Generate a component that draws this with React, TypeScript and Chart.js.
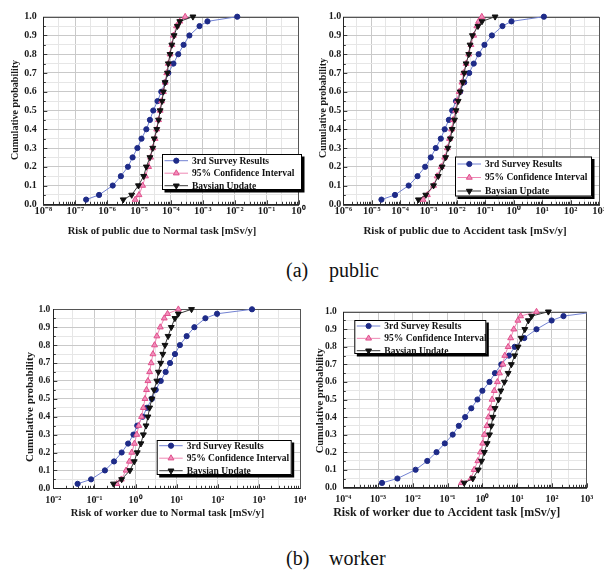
import React, { useEffect, useRef } from 'react';
import { Chart, registerables } from 'chart.js';

Chart.register(...registerables);

// ---------------- data ----------------
const PROB_LEVELS = [0.025, 0.05, 0.1, 0.15, 0.2, 0.25, 0.3, 0.35, 0.4, 0.45, 0.5, 0.55, 0.6, 0.65, 0.7, 0.75, 0.8, 0.85, 0.9, 0.95, 0.975, 1.0];
const Y_TICK_LABELS = ['0.0', '0.1', '0.2', '0.3', '0.4', '0.5', '0.6', '0.7', '0.8', '0.9', '1.0'];
const SERIES_LABELS = ['3rd Survey Results', '95% Confidence Interval', 'Baysian Update'];
const Y_TITLE = 'Cumulative probability';

// (a) public – Normal task
const PUB_NORMAL_X_LABELS = ['10⁻⁸', '10⁻⁷', '10⁻⁶', '10⁻⁵', '10⁻⁴', '10⁻³', '10⁻²', '10⁻¹', '10⁰'];
const PUB_NORMAL_SURVEY = [2.2e-7, 5.6e-7, 1.5e-6, 2.7e-6, 4.5e-6, 6.3e-6, 8.9e-6, 1.2e-5, 1.7e-5, 2.2e-5, 2.8e-5, 3.8e-5, 5.0e-5, 6.6e-5, 8.3e-5, 1.2e-4, 1.7e-4, 2.5e-4, 3.8e-4, 7.9e-4, 1.4e-3, 1.2e-2];
const PUB_NORMAL_CI = [7.6e-6, 1.0e-5, 1.3e-5, 1.6e-5, 2.0e-5, 2.3e-5, 2.7e-5, 3.2e-5, 3.6e-5, 4.1e-5, 4.6e-5, 5.1e-5, 5.8e-5, 6.6e-5, 7.4e-5, 8.3e-5, 9.4e-5, 1.07e-4, 1.2e-4, 1.5e-4, 1.9e-4, 2.8e-4];
const PUB_NORMAL_BAYES = [3.2e-6, 5.9e-6, 9.6e-6, 1.4e-5, 1.7e-5, 2.2e-5, 2.7e-5, 3.0e-5, 3.6e-5, 4.1e-5, 4.6e-5, 5.3e-5, 5.8e-5, 6.6e-5, 7.8e-5, 8.3e-5, 9.4e-5, 1.07e-4, 1.26e-4, 1.6e-4, 1.9e-4, 4.9e-4];

// (a) public – Accident task
const PUB_ACC_X_LABELS = ['10⁻⁶', '10⁻⁵', '10⁻⁴', '10⁻³', '10⁻²', '10⁻¹', '10⁰', '10¹', '10²', '10³'];
const PUB_ACC_SURVEY = [2.2e-5, 6.6e-5, 2.0e-4, 4.1e-4, 7.6e-4, 1.2e-3, 1.8e-3, 2.7e-3, 3.7e-3, 5.2e-3, 6.8e-3, 9.3e-3, 1.3e-2, 1.8e-2, 2.7e-2, 3.9e-2, 5.8e-2, 9.3e-2, 0.17, 0.40, 0.83, 11.5];
const PUB_ACC_CI = [6.4e-4, 9.1e-4, 1.5e-3, 2.0e-3, 2.8e-3, 3.7e-3, 4.6e-3, 5.5e-3, 6.5e-3, 7.4e-3, 8.9e-3, 1.0e-2, 1.2e-2, 1.5e-2, 1.7e-2, 2.1e-2, 2.6e-2, 3.1e-2, 3.9e-2, 5.0e-2, 5.8e-2, 7.5e-2];
const PUB_ACC_BAYES = [4.4e-4, 8.0e-4, 1.5e-3, 2.2e-3, 3.0e-3, 4.0e-3, 4.8e-3, 5.9e-3, 6.8e-3, 8.2e-3, 9.3e-3, 1.1e-2, 1.3e-2, 1.6e-2, 1.8e-2, 2.1e-2, 2.6e-2, 2.9e-2, 3.5e-2, 5.5e-2, 7.6e-2, 0.22];

// (b) worker – Normal task
const WORK_NORMAL_X_LABELS = ['10⁻²', '10⁻¹', '10⁰', '10¹', '10²', '10³', '10⁴'];
const WORK_NORMAL_SURVEY = [0.039, 0.083, 0.18, 0.30, 0.46, 0.66, 0.89, 1.1, 1.5, 1.9, 2.5, 3.1, 4.1, 5.4, 6.9, 9.1, 12, 17.5, 27, 50, 96, 680];
const WORK_NORMAL_CI = [0.35, 0.45, 0.59, 0.71, 0.81, 0.94, 1.07, 1.2, 1.4, 1.55, 1.7, 1.85, 2.0, 2.2, 2.4, 2.65, 2.9, 3.3, 4.0, 5.0, 6.0, 11];
const WORK_NORMAL_BAYES = [0.29, 0.46, 0.73, 0.93, 1.1, 1.35, 1.55, 1.8, 2.0, 2.2, 2.5, 2.8, 3.3, 3.6, 4.1, 4.6, 5.2, 6.2, 7.4, 9.1, 11, 23];

// (b) worker – Accident task
const WORK_ACC_X_LABELS = ['10⁻⁴', '10⁻³', '10⁻²', '10⁻¹', '10⁰', '10¹', '10²', '10³'];
const WORK_ACC_SURVEY = [1.3e-3, 3.6e-3, 1.2e-2, 2.6e-2, 4.8e-2, 8.3e-2, 0.14, 0.21, 0.32, 0.48, 0.72, 1.0, 1.6, 2.3, 3.5, 5.8, 8.5, 16, 36, 98, 215, 2000];
const WORK_ACC_CI = [0.25, 0.47, 0.58, 0.74, 0.88, 1.02, 1.14, 1.34, 1.5, 1.7, 1.9, 2.2, 2.7, 3.1, 3.9, 4.4, 5.5, 6.5, 8.0, 10.5, 12.6, 36];
const WORK_ACC_BAYES = [0.30, 0.53, 0.76, 0.95, 1.14, 1.37, 1.6, 1.8, 2.0, 2.3, 2.9, 3.4, 4.3, 5.5, 6.8, 8.5, 10.6, 13, 16.6, 21, 26, 79];

// ---------------- styles / layout ----------------
const FONT = '"Liberation Serif", "Times New Roman", serif';
const STYLES = [
  { border: '#7282d2', fill: '#1e2b88', stroke: '#1e2b88', shape: 'circle', radius: 2.6, rotation: 0, order: 3 },
  { border: '#ee88b4', fill: '#f28cbb', stroke: '#e0508c', shape: 'triangle', radius: 3.4, rotation: 0, order: 2 },
  { border: '#3a3a3a', fill: '#111111', stroke: '#111111', shape: 'triangle', radius: 3.4, rotation: 180, order: 1 },
];
const X_AXIS_H = 30;

type Panel = any;

const PANELS: Panel[] = [
  {
    series: [PUB_NORMAL_SURVEY, PUB_NORMAL_CI, PUB_NORMAL_BAYES],
    xLabels: PUB_NORMAL_X_LABELS, minExp: -8,
    xTitle: 'Risk of public due to Normal task [mSv/y]',
    canvas: { left: 0, top: 0, width: 306, height: 245 },
    plot: { x0: 43.3, y0: 16.7, x1: 298.5, y1: 204.3 },
    tickFont: 10, xTickFont: 10.5, yLabelPad: 6.5, xLabelPad: 1,
    xTitleAt: { cx: 162, cy: 231, size: 10.5 },
    yTitleAt: { cx: 15, cy: 110, size: 10 },
    legend: { x: 162, y: 154, w: 140, h: 36, row0: 6.7, step: 12.5 },
  },
  {
    series: [PUB_ACC_SURVEY, PUB_ACC_CI, PUB_ACC_BAYES],
    xLabels: PUB_ACC_X_LABELS, minExp: -6,
    xTitle: 'Risk of public due to Accident task [mSv/y]',
    canvas: { left: 306, top: 0, width: 298, height: 245 },
    plot: { x0: 343.3, y0: 16.7, x1: 601.6, y1: 204.3 },
    tickFont: 10, xTickFont: 10.5, yLabelPad: 2, xLabelPad: 1,
    xTitleAt: { cx: 465, cy: 231, size: 11 },
    yTitleAt: { cx: 323, cy: 108, size: 10 },
    legend: { x: 455, y: 156.5, w: 137, h: 40, row0: 7.5, step: 13.5 },
  },
  {
    series: [WORK_NORMAL_SURVEY, WORK_NORMAL_CI, WORK_NORMAL_BAYES],
    xLabels: WORK_NORMAL_X_LABELS, minExp: -2,
    xTitle: 'Risk of worker due to Normal task [mSv/y]',
    canvas: { left: 0, top: 290, width: 306, height: 240 },
    plot: { x0: 53.3, y0: 309.3, x1: 300, y1: 488.3 },
    tickFont: 9.5, xTickFont: 10, yLabelPad: 3, xLabelPad: 6,
    xTitleAt: { cx: 167.5, cy: 513.3, size: 10.5 },
    yTitleAt: { cx: 30, cy: 407, size: 11 },
    legend: { x: 156.7, y: 440, w: 135, h: 35, row0: 5.7, step: 12.5 },
  },
  {
    series: [WORK_ACC_SURVEY, WORK_ACC_CI, WORK_ACC_BAYES],
    xLabels: WORK_ACC_X_LABELS, minExp: -4,
    xTitle: 'Risk of worker due to Accident task [mSv/y]',
    canvas: { left: 306, top: 290, width: 298, height: 240 },
    plot: { x0: 343.3, y0: 311.7, x1: 586.7, y1: 487.3 },
    tickFont: 9.5, xTickFont: 10, yLabelPad: 6.5, xLabelPad: 6,
    xTitleAt: { cx: 446.7, cy: 513.3, size: 12 },
    yTitleAt: { cx: 320, cy: 400.8, size: 10.5 },
    legend: { x: 354.3, y: 320, w: 132, h: 34, row0: 6, step: 12.35 },
  },
];

function isDecade(v: number) {
  const e = Math.log10(v);
  return Math.abs(e - Math.round(e)) < 1e-6;
}

function drawMarker(ctx: CanvasRenderingContext2D, shape: string, x: number, y: number, r: number, rotDeg: number, fill: string, stroke: string) {
  ctx.save();
  ctx.fillStyle = fill;
  ctx.strokeStyle = stroke;
  ctx.lineWidth = 1;
  ctx.beginPath();
  if (shape === 'circle') {
    ctx.arc(x, y, r, 0, Math.PI * 2);
  } else {
    let rad = (rotDeg * Math.PI) / 180;
    ctx.moveTo(x + Math.sin(rad) * r, y - Math.cos(rad) * r);
    rad += (2 * Math.PI) / 3;
    ctx.lineTo(x + Math.sin(rad) * r, y - Math.cos(rad) * r);
    rad += (2 * Math.PI) / 3;
    ctx.lineTo(x + Math.sin(rad) * r, y - Math.cos(rad) * r);
    ctx.closePath();
  }
  ctx.fill();
  ctx.stroke();
  ctx.restore();
}

function makeDecor(p: Panel) {
  const L = p.canvas.left;
  const T = p.canvas.top;
  return {
    id: 'decor',
    beforeDraw(chart: any) {
      const { ctx, chartArea: a } = chart;
      ctx.save();
      ctx.fillStyle = '#ffffff';
      ctx.fillRect(a.left, a.top, a.right - a.left, a.bottom - a.top);
      ctx.restore();
    },
    beforeDatasetsDraw(chart: any) {
      const { ctx, chartArea: a, scales } = chart;
      ctx.save();
      ctx.strokeStyle = '#3a3a3a';
      ctx.lineWidth = 1;
      ctx.beginPath();
      for (const t of scales.x.ticks) {
        const px = Math.round(scales.x.getPixelForValue(t.value)) + 0.5;
        const len = isDecade(t.value) ? 4 : 2.5;
        ctx.moveTo(px, a.bottom);
        ctx.lineTo(px, a.bottom - len);
      }
      scales.y.ticks.forEach((t: any, i: number) => {
        const py = Math.round(scales.y.getPixelForValue(t.value)) + 0.5;
        const len = i % 2 === 0 ? 4 : 2.5;
        ctx.moveTo(a.left, py);
        ctx.lineTo(a.left + len, py);
      });
      ctx.stroke();
      ctx.strokeStyle = '#555555';
      ctx.strokeRect(Math.round(a.left) + 0.5, Math.round(a.top) + 0.5, Math.round(a.right - a.left), Math.round(a.bottom - a.top));
      ctx.strokeStyle = '#222222';
      ctx.beginPath();
      ctx.moveTo(Math.round(a.left) + 0.5, Math.round(a.top));
      ctx.lineTo(Math.round(a.left) + 0.5, Math.round(a.bottom) + 0.5);
      ctx.lineTo(Math.round(a.right) + 0.5, Math.round(a.bottom) + 0.5);
      ctx.stroke();
      ctx.restore();
    },
    afterDraw(chart: any) {
      const { ctx } = chart;
      ctx.save();
      ctx.fillStyle = '#1a1a1a';
      ctx.textAlign = 'center';
      ctx.textBaseline = 'middle';
      ctx.font = `bold ${p.xTitleAt.size}px ${FONT}`;
      ctx.fillText(p.xTitle, p.xTitleAt.cx - L, p.xTitleAt.cy - T);
      ctx.save();
      ctx.translate(p.yTitleAt.cx - L, p.yTitleAt.cy - T);
      ctx.rotate(-Math.PI / 2);
      ctx.font = `bold ${p.yTitleAt.size}px ${FONT}`;
      ctx.fillText(Y_TITLE, 0, 0);
      ctx.restore();

      // legend
      const lg = p.legend;
      const bx = lg.x - L;
      const by = lg.y - T;
      ctx.fillStyle = '#000000';
      ctx.fillRect(bx + 2.5, by + 2.5, lg.w, lg.h);
      ctx.fillStyle = '#ffffff';
      ctx.fillRect(bx, by, lg.w, lg.h);
      ctx.strokeStyle = '#000000';
      ctx.lineWidth = 1;
      ctx.strokeRect(bx + 0.5, by + 0.5, lg.w - 1, lg.h - 1);
      chart.data.datasets.forEach((ds: any, i: number) => {
        const st = STYLES[i];
        const ry = by + lg.row0 + i * lg.step;
        ctx.strokeStyle = st.border;
        ctx.lineWidth = 1;
        ctx.beginPath();
        ctx.moveTo(bx + 2.5, ry);
        ctx.lineTo(bx + 26, ry);
        ctx.stroke();
        drawMarker(ctx, st.shape, bx + 14.3, ry, st.radius, st.rotation, st.fill, st.stroke);
        ctx.fillStyle = '#111111';
        ctx.font = `bold 9.5px ${FONT}`;
        ctx.textAlign = 'left';
        ctx.textBaseline = 'middle';
        ctx.fillText(ds.label, bx + 30, ry + 0.5);
      });
      ctx.restore();
    },
  };
}

function ChartPanel({ p }: { p: Panel }) {
  const ref = useRef<HTMLCanvasElement>(null);
  useEffect(() => {
    const canvas = ref.current;
    if (!canvas) return;
    const L = p.canvas.left;
    const T = p.canvas.top;
    const maxExp = p.minExp + p.xLabels.length - 1;
    const yAxisW = p.plot.x0 - L;
    const padTop = p.plot.y0 - T;
    const padRight = L + p.canvas.width - p.plot.x1;
    const padBottom = T + p.canvas.height - p.plot.y1 - X_AXIS_H;

    const datasets = p.series.map((xs: number[], si: number) => {
      const st = STYLES[si];
      return {
        label: SERIES_LABELS[si],
        data: xs.map((x: number, i: number) => ({ x, y: PROB_LEVELS[i] })),
        borderColor: st.border,
        backgroundColor: st.fill,
        borderWidth: 1,
        pointStyle: st.shape,
        pointRadius: st.radius,
        pointRotation: st.rotation,
        pointBackgroundColor: st.fill,
        pointBorderColor: st.stroke,
        pointBorderWidth: 1,
        tension: 0,
        order: st.order,
        clip: { left: 6, top: 6, right: 0, bottom: 6 },
      };
    });

    const yFont = { family: FONT, size: p.tickFont, weight: 'bold' as const };
    const xFont = { family: FONT, size: p.xTickFont, weight: 'bold' as const };

    const chart = new Chart(canvas, {
      type: 'line',
      data: { datasets },
      options: {
        responsive: false,
        maintainAspectRatio: false,
        animation: false,
        devicePixelRatio: 1,
        layout: { padding: { left: 0, top: padTop, right: padRight, bottom: padBottom } },
        plugins: { legend: { display: false }, tooltip: { enabled: false }, title: { display: false } },
        scales: {
          x: {
            type: 'logarithmic',
            position: 'bottom',
            min: Math.pow(10, p.minExp),
            max: Math.pow(10, maxExp),
            afterBuildTicks: (scale: any) => {
              const ticks: any[] = [];
              for (let e = p.minExp; e <= maxExp; e++) {
                ticks.push({ value: Math.pow(10, e), major: true });
                if (e < maxExp) {
                  for (let m = 2; m <= 9; m++) ticks.push({ value: m * Math.pow(10, e), major: false });
                }
              }
              scale.ticks = ticks;
            },
            afterFit: (scale: any) => {
              scale.height = X_AXIS_H;
              scale.paddingLeft = 0;
              scale.paddingRight = 0;
            },
            grid: {
              drawTicks: false,
              lineWidth: 1,
              color: (ctx: any) => {
                const v = ctx.tick ? ctx.tick.value : 1;
                if (isDecade(v)) return '#c9c9c9';
                const sig = Math.round(v / Math.pow(10, Math.floor(Math.log10(v) + 1e-9)));
                return sig === 3 ? '#e6e6e6' : 'rgba(0,0,0,0)';
              },
            },
            border: { display: false },
            ticks: {
              autoSkip: false,
              maxRotation: 0,
              minRotation: 0,
              padding: p.xLabelPad,
              color: '#1a1a1a',
              font: xFont,
              callback: (value: any) => {
                const v = Number(value);
                if (!isDecade(v)) return '';
                return p.xLabels[Math.round(Math.log10(v)) - p.minExp];
              },
            },
          },
          y: {
            type: 'linear',
            position: 'left',
            min: 0,
            max: 1,
            afterBuildTicks: (scale: any) => {
              const ticks: any[] = [];
              for (let i = 0; i <= 20; i++) ticks.push({ value: i / 20 });
              scale.ticks = ticks;
            },
            afterFit: (scale: any) => {
              scale.width = yAxisW;
              scale.paddingTop = 0;
              scale.paddingBottom = 0;
            },
            grid: {
              drawTicks: false,
              lineWidth: 1,
              color: (ctx: any) => (ctx.index % 2 === 0 ? '#c9c9c9' : '#e6e6e6'),
            },
            border: { display: false },
            ticks: {
              autoSkip: false,
              padding: p.yLabelPad,
              color: '#1a1a1a',
              font: yFont,
              callback: (_v: any, index: number) => (index % 2 === 0 ? Y_TICK_LABELS[index / 2] : ''),
            },
          },
        },
      } as any,
      plugins: [makeDecor(p)],
    });
    return () => chart.destroy();
  }, [p]);

  return (
    <canvas
      ref={ref}
      width={p.canvas.width}
      height={p.canvas.height}
      style={{ position: 'absolute', left: p.canvas.left, top: p.canvas.top, width: p.canvas.width, height: p.canvas.height }}
    />
  );
}

const CAPTIONS = [
  { tag: '(a)', word: 'public', top: 260.3 },
  { tag: '(b)', word: 'worker', top: 548.3 },
];

export default function App() {
  const capStyle: any = { position: 'absolute', fontFamily: FONT, fontSize: 20, lineHeight: '20px', color: '#111', whiteSpace: 'nowrap' };
  return (
    <div style={{ position: 'absolute', left: 0, top: 0, width: 604, height: 570, background: '#ffffff', overflow: 'hidden' }}>
      {PANELS.map((p, i) => (
        <ChartPanel key={i} p={p} />
      ))}
      {CAPTIONS.map((c, i) => (
        <React.Fragment key={i}>
          <div style={{ ...capStyle, left: 286, top: c.top }}>{c.tag}</div>
          <div style={{ ...capStyle, left: 329, top: c.top }}>{c.word}</div>
        </React.Fragment>
      ))}
    </div>
  );
}
